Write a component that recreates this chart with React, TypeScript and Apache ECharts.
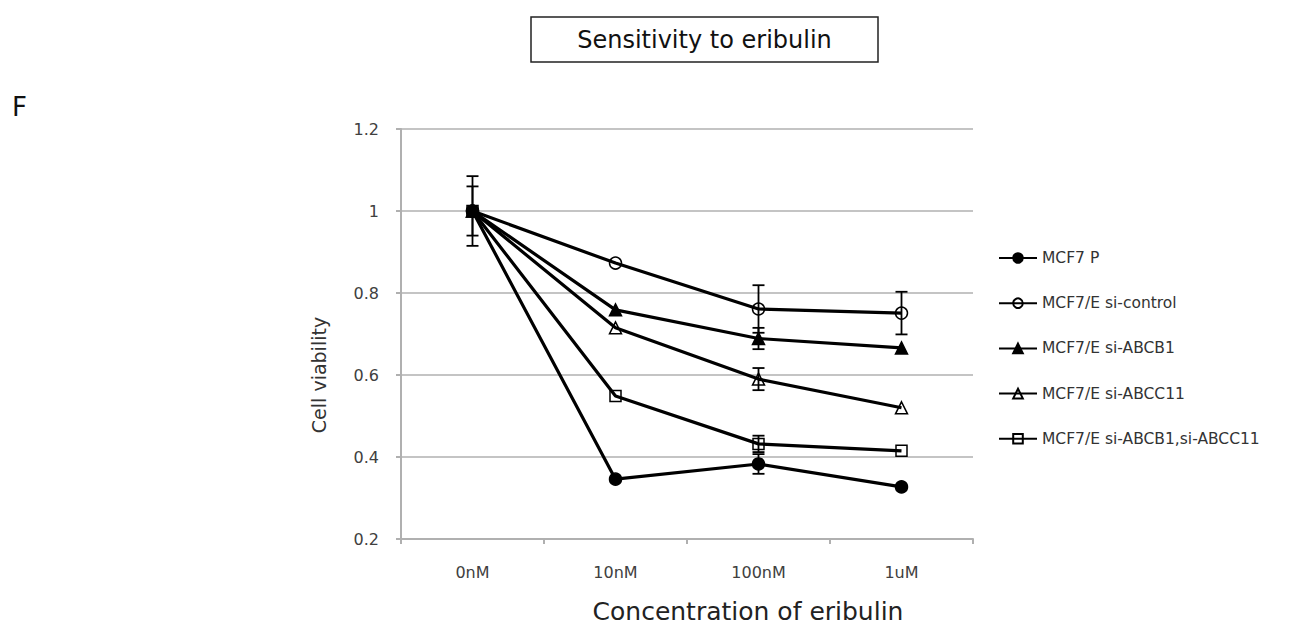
import React, { useEffect, useRef } from "react";
import * as echarts from "echarts";

const categories = ["0nM", "10nM", "100nM", "1uM"];
const seriesNames = [
  "MCF7 P",
  "MCF7/E si-control",
  "MCF7/E si-ABCB1",
  "MCF7/E si-ABCC11",
  "MCF7/E si-ABCB1,si-ABCC11",
];
const mcf7P = [1.0, 0.346, 0.383, 0.327];
const siControl = [1.0, 0.873, 0.761, 0.751];
const siABCB1 = [1.0, 0.759, 0.689, 0.666];
const siABCC11 = [1.0, 0.715, 0.59, 0.52];
const siBoth = [1.0, 0.549, 0.432, 0.415];
const mcf7PErr = [0.0, 0.0, 0.024, 0.0];
const siControlErr = [0.085, 0.0, 0.058, 0.052];
const siABCB1Err = [0.06, 0.0, 0.026, 0.0];
const siABCC11Err = [0.0, 0.0, 0.027, 0.0];
const siBothErr = [0.0, 0.0, 0.02, 0.0];
const yTicks = { min: 0.2, max: 1.2, interval: 0.2 };
const xAxisTitle = "Concentration of eribulin";
const yAxisTitle = "Cell viability";
const chartTitle = "Sensitivity to eribulin";

const allValues = [mcf7P, siControl, siABCB1, siABCC11, siBoth];
const allErrs = [mcf7PErr, siControlErr, siABCB1Err, siABCC11Err, siBothErr];
const symbols = ["circle", "circle", "triangle", "triangle", "rect"];
const filled = [true, false, true, false, false];

export default function App() {
  const ref = useRef<HTMLDivElement>(null);
  useEffect(() => {
    document.body.style.margin = "0";
    const chart = echarts.init(ref.current!, null, { renderer: "svg" });
    const font = "'DejaVu Sans', sans-serif";
    const lineSeries: any[] = allValues.map((vals, i) => ({
      name: seriesNames[i],
      type: "line",
      data: vals,
      symbol: symbols[i],
      symbolSize: symbols[i] === "rect" ? 11 : 12,
      showAllSymbol: true,
      lineStyle: { color: "#000", width: 3.2 },
      itemStyle: {
        color: filled[i] ? "#000" : "rgba(0,0,0,0)",
        borderColor: "#000",
        borderWidth: 1.5,
      },
      z: filled[i] ? 4 : 3,
    }));
    const errData: any[] = [];
    allValues.forEach((vals, i) => {
      vals.forEach((v, j) => {
        const e = allErrs[i][j];
        if (e > 0) errData.push([j, v - e, v + e]);
      });
    });
    const errSeries = {
      type: "custom",
      name: "err",
      z: 5,
      silent: true,
      renderItem: (params: any, api: any) => {
        const x = api.value(0);
        const lo = api.coord([x, api.value(1)]);
        const hi = api.coord([x, api.value(2)]);
        const w = 6;
        const style = { stroke: "#000", lineWidth: 1.8 };
        return {
          type: "group",
          children: [
            { type: "line", shape: { x1: lo[0], y1: lo[1], x2: hi[0], y2: hi[1] }, style },
            { type: "line", shape: { x1: lo[0] - w, y1: lo[1], x2: lo[0] + w, y2: lo[1] }, style },
            { type: "line", shape: { x1: hi[0] - w, y1: hi[1], x2: hi[0] + w, y2: hi[1] }, style },
          ],
        };
      },
      data: errData,
    };
    chart.setOption({
      animation: false,
      backgroundColor: "#fff",
      grid: { left: 401, top: 129, right: 329, bottom: 86 },
      graphic: [
        {
          type: "rect",
          shape: { x: 531, y: 17, width: 347, height: 45 },
          style: { fill: "#fff", stroke: "#222", lineWidth: 1.5 },
        },
        {
          type: "text",
          x: 704.5,
          y: 40,
          style: {
            text: chartTitle,
            font: "24px 'DejaVu Sans', sans-serif",
            fill: "#111",
            align: "center",
            verticalAlign: "middle",
          },
        },
        {
          type: "text",
          x: 12,
          y: 107,
          style: {
            text: "F",
            font: "26px 'DejaVu Sans', sans-serif",
            fill: "#111",
            align: "left",
            verticalAlign: "middle",
          },
        },
        {
          type: "text",
          x: 748,
          y: 611,
          style: {
            text: xAxisTitle,
            font: "25px 'DejaVu Sans', sans-serif",
            fill: "#222",
            align: "center",
            verticalAlign: "middle",
          },
        },
        {
          type: "text",
          x: 319,
          y: 375,
          rotation: Math.PI / 2,
          style: {
            text: yAxisTitle,
            font: "19px 'DejaVu Sans', sans-serif",
            fill: "#333",
            align: "center",
            verticalAlign: "middle",
          },
        },
      ],
      legend: {
        orient: "vertical",
        left: 993,
        top: 245,
        itemWidth: 38,
        itemHeight: 12,
        itemGap: 29.2,
        data: seriesNames,
        textStyle: { fontFamily: font, fontSize: 15.5, color: "#333" },
      },
      xAxis: {
        type: "category",
        data: categories,
        boundaryGap: true,
        axisLine: { lineStyle: { color: "#b0b0b0", width: 2 } },
        axisTick: { show: true, alignWithLabel: false, length: 5, lineStyle: { color: "#b0b0b0", width: 2 } },
        axisLabel: { margin: 25, fontFamily: font, fontSize: 16, color: "#404040" },
      },
      yAxis: {
        type: "value",
        min: yTicks.min,
        max: yTicks.max,
        interval: yTicks.interval,
        axisLine: { show: true, lineStyle: { color: "#b0b0b0", width: 2 } },
        axisTick: { show: true, length: 5, lineStyle: { color: "#b0b0b0", width: 2 } },
        splitLine: { lineStyle: { color: "#c4c4c4", width: 2 } },
        axisLabel: {
          margin: 22,
          fontFamily: font,
          fontSize: 16,
          color: "#404040",
          formatter: (v: number) => String(Math.round(v * 10) / 10),
        },
      },
      series: [...lineSeries, errSeries],
    });
    return () => chart.dispose();
  }, []);
  return <div ref={ref} style={{ width: 1302, height: 625 }} />;
}
